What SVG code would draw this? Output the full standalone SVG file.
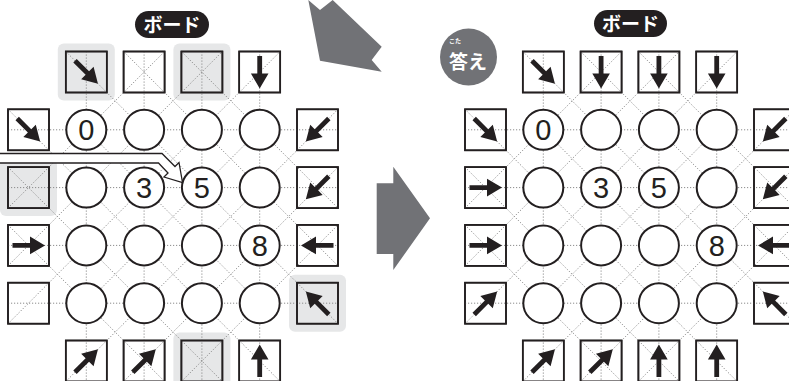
<svg xmlns="http://www.w3.org/2000/svg" xmlns:xlink="http://www.w3.org/1999/xlink" width="789" height="381" viewBox="0 0 789 381">
<style>
.dot{fill:none;stroke:#8c8c8c;stroke-width:1;stroke-dasharray:1.2 1.8}
.bx{fill:#fff;stroke:#231f20;stroke-width:1.6}
.bx.g{fill:#e6e7e8}
.hl{fill:#e6e7e8}
.c{fill:#fff;stroke:#231f20;stroke-width:2}
.n{font-family:"Liberation Sans",Arial,sans-serif;font-size:29px;fill:#231f20;text-anchor:middle}
.ar{fill:#231f20}
.big{fill:#717276}
.pill{fill:#231f20}
.pt{font-family:"Noto Sans CJK JP",sans-serif;font-weight:bold;font-size:19px;fill:#fff;text-anchor:middle}
</style>
<defs>
<path id="ar" d="M-16,-2.4 H1.5 V-8.8 L16.5,0 L1.5,8.8 V2.4 H-16 Z"/>
<rect id="box" x="-20.5" y="-20.5" width="41" height="41"/>
<circle id="cir" r="20"/>
</defs>

<!-- big gray arrows -->
<polygon class="big" points="308.3,0 320,10 332.7,0 381.7,46.7 371.7,60 381.7,71.7 320,60.7"/>
<polygon class="big" points="376.7,183.3 393.3,183.3 393.3,166.7 430,218.3 393.3,270 393.3,254 376.7,254"/>

<!-- labels -->
<g id="label-board-left">
<rect class="pill" x="135" y="11" width="74" height="27" rx="13.5"/>
<text class="pt" x="172" y="31.5">ボード</text>
</g>
<g id="label-board-right">
<rect class="pill" x="594" y="10" width="73" height="27" rx="13.5"/>
<text class="pt" x="630.5" y="30.5">ボード</text>
</g>
<g id="label-answer">
<circle cx="468.5" cy="57" r="28.5" fill="#717276"/>
<text x="455" y="43" font-family="'Noto Sans CJK JP',sans-serif" font-weight="bold" font-size="6" fill="#fff" text-anchor="middle">こた</text>
<text x="468" y="68.5" font-family="'Noto Sans CJK JP',sans-serif" font-weight="bold" font-size="19" fill="#fff" text-anchor="middle">答え</text>
</g>

<!-- highlights (left board) -->
<g id="highlights">
<rect class="hl" x="57.8" y="43.5" width="57" height="57" rx="6"/>
<rect class="hl" x="173.4" y="43.5" width="57" height="57" rx="6"/>
<rect class="hl" x="0" y="159.1" width="57" height="57" rx="6"/>
<rect class="hl" x="289" y="274.7" width="57" height="57" rx="6"/>
<rect class="hl" x="173.4" y="332.5" width="57" height="57" rx="6"/>
</g>

<!-- box fills (left) -->
<g id="left-box-fills">
<use href="#box" class="bx g" x="86.3" y="72"/>
<use href="#box" class="bx" x="144.1" y="72"/>
<use href="#box" class="bx g" x="201.9" y="72"/>
<use href="#box" class="bx" x="259.7" y="72"/>
<use href="#box" class="bx" x="28.5" y="129.8"/>
<use href="#box" class="bx g" x="28.5" y="187.6"/>
<use href="#box" class="bx" x="28.5" y="245.4"/>
<use href="#box" class="bx" x="28.5" y="303.2"/>
<use href="#box" class="bx" x="317.5" y="129.8"/>
<use href="#box" class="bx" x="317.5" y="187.6"/>
<use href="#box" class="bx" x="317.5" y="245.4"/>
<use href="#box" class="bx g" x="317.5" y="303.2"/>
<use href="#box" class="bx" x="86.3" y="361"/>
<use href="#box" class="bx" x="144.1" y="361"/>
<use href="#box" class="bx g" x="201.9" y="361"/>
<use href="#box" class="bx" x="259.7" y="361"/>
</g>
<g id="right-box-fills" transform="translate(457,0)">
<use href="#box" class="bx" x="86.3" y="72"/>
<use href="#box" class="bx" x="144.1" y="72"/>
<use href="#box" class="bx" x="201.9" y="72"/>
<use href="#box" class="bx" x="259.7" y="72"/>
<use href="#box" class="bx" x="28.5" y="129.8"/>
<use href="#box" class="bx" x="28.5" y="187.6"/>
<use href="#box" class="bx" x="28.5" y="245.4"/>
<use href="#box" class="bx" x="28.5" y="303.2"/>
<use href="#box" class="bx" x="317.5" y="129.8"/>
<use href="#box" class="bx" x="317.5" y="187.6"/>
<use href="#box" class="bx" x="317.5" y="245.4"/>
<use href="#box" class="bx" x="317.5" y="303.2"/>
<use href="#box" class="bx" x="86.3" y="361"/>
<use href="#box" class="bx" x="144.1" y="361"/>
<use href="#box" class="bx" x="201.9" y="361"/>
<use href="#box" class="bx" x="259.7" y="361"/>
</g>

<!-- connectors: dotted lattice -->
<g id="connectors">
<path id="lat" class="dot" d="M8,129.8H338 M8,187.6H338 M8,245.4H338 M8,303.2H338
M86.3,51.5V381.5 M144.1,51.5V381.5 M201.9,51.5V381.5 M259.7,51.5V381.5
M86.3,129.8L259.7,303.2 M65.8,51.5L338,323.7 M8,109.3L280.2,381.5 M123.6,51.5L338,265.9 M8,167.1L222.4,381.5 M181.4,51.5L338,208.1 M8,224.9L164.6,381.5
M86.3,303.2L259.7,129.8 M8,323.7L280.2,51.5 M65.8,381.5L338,109.3 M8,265.9L222.4,51.5 M123.6,381.5L338,167.1 M8,208.1L164.6,51.5 M181.4,381.5L338,224.9"/>
<use href="#lat" transform="translate(457,0)"/>
</g>

<!-- left board -->
<g id="left-board">
<g id="L-circles">
<use href="#cir" class="c" x="86.3" y="129.8"/><use href="#cir" class="c" x="144.1" y="129.8"/><use href="#cir" class="c" x="201.9" y="129.8"/><use href="#cir" class="c" x="259.7" y="129.8"/>
<use href="#cir" class="c" x="86.3" y="187.6"/><use href="#cir" class="c" x="144.1" y="187.6"/><use href="#cir" class="c" x="201.9" y="187.6"/><use href="#cir" class="c" x="259.7" y="187.6"/>
<use href="#cir" class="c" x="86.3" y="245.4"/><use href="#cir" class="c" x="144.1" y="245.4"/><use href="#cir" class="c" x="201.9" y="245.4"/><use href="#cir" class="c" x="259.7" y="245.4"/>
<use href="#cir" class="c" x="86.3" y="303.2"/><use href="#cir" class="c" x="144.1" y="303.2"/><use href="#cir" class="c" x="201.9" y="303.2"/><use href="#cir" class="c" x="259.7" y="303.2"/>
<text class="n" x="86.3" y="140.3">0</text>
<text class="n" x="144.1" y="198.1">3</text>
<text class="n" x="201.9" y="198.1">5</text>
<text class="n" x="259.7" y="255.9">8</text>
</g>
<g id="L-box-strokes" fill="none" stroke="#231f20" stroke-width="1.7">
<use href="#box" x="86.3" y="72"/><use href="#box" x="144.1" y="72"/><use href="#box" x="201.9" y="72"/><use href="#box" x="259.7" y="72"/>
<use href="#box" x="28.5" y="129.8"/><use href="#box" x="28.5" y="187.6"/><use href="#box" x="28.5" y="245.4"/><use href="#box" x="28.5" y="303.2"/>
<use href="#box" x="317.5" y="129.8"/><use href="#box" x="317.5" y="187.6"/><use href="#box" x="317.5" y="245.4"/><use href="#box" x="317.5" y="303.2"/>
<use href="#box" x="86.3" y="361"/><use href="#box" x="144.1" y="361"/><use href="#box" x="201.9" y="361"/><use href="#box" x="259.7" y="361"/>
</g>
<g id="L-arrows" class="ar">
<use href="#ar" transform="translate(86.3,72) rotate(45)"/>
<use href="#ar" transform="translate(259.7,72) rotate(90)"/>
<use href="#ar" transform="translate(28.5,129.8) rotate(45)"/>
<use href="#ar" transform="translate(28.5,245.4)"/>
<use href="#ar" transform="translate(317.5,129.8) rotate(135)"/>
<use href="#ar" transform="translate(317.5,187.6) rotate(135)"/>
<use href="#ar" transform="translate(317.5,245.4) rotate(180)"/>
<use href="#ar" transform="translate(317.5,303.2) rotate(-135)"/>
<use href="#ar" transform="translate(86.3,361) rotate(-45)"/>
<use href="#ar" transform="translate(144.1,361) rotate(-45)"/>
<use href="#ar" transform="translate(259.7,361) rotate(-90)"/>
</g>
<g id="callout">
<polygon points="-2,153.5 162,153.5 175,166.5 179,162.5 182.5,182.5 164,177 168,173 158.5,163 -2,163" fill="#fff" stroke="#231f20" stroke-width="1.3" stroke-linejoin="miter"/>
</g>
</g>

<!-- right board -->
<g id="right-board" transform="translate(457,0)">
<g id="R-circles">
<use href="#cir" class="c" x="86.3" y="129.8"/><use href="#cir" class="c" x="144.1" y="129.8"/><use href="#cir" class="c" x="201.9" y="129.8"/><use href="#cir" class="c" x="259.7" y="129.8"/>
<use href="#cir" class="c" x="86.3" y="187.6"/><use href="#cir" class="c" x="144.1" y="187.6"/><use href="#cir" class="c" x="201.9" y="187.6"/><use href="#cir" class="c" x="259.7" y="187.6"/>
<use href="#cir" class="c" x="86.3" y="245.4"/><use href="#cir" class="c" x="144.1" y="245.4"/><use href="#cir" class="c" x="201.9" y="245.4"/><use href="#cir" class="c" x="259.7" y="245.4"/>
<use href="#cir" class="c" x="86.3" y="303.2"/><use href="#cir" class="c" x="144.1" y="303.2"/><use href="#cir" class="c" x="201.9" y="303.2"/><use href="#cir" class="c" x="259.7" y="303.2"/>
<text class="n" x="86.3" y="140.3">0</text>
<text class="n" x="144.1" y="198.1">3</text>
<text class="n" x="201.9" y="198.1">5</text>
<text class="n" x="259.7" y="255.9">8</text>
</g>
<g id="R-box-strokes" fill="none" stroke="#231f20" stroke-width="1.7">
<use href="#box" x="86.3" y="72"/><use href="#box" x="144.1" y="72"/><use href="#box" x="201.9" y="72"/><use href="#box" x="259.7" y="72"/>
<use href="#box" x="28.5" y="129.8"/><use href="#box" x="28.5" y="187.6"/><use href="#box" x="28.5" y="245.4"/><use href="#box" x="28.5" y="303.2"/>
<use href="#box" x="317.5" y="129.8"/><use href="#box" x="317.5" y="187.6"/><use href="#box" x="317.5" y="245.4"/><use href="#box" x="317.5" y="303.2"/>
<use href="#box" x="86.3" y="361"/><use href="#box" x="144.1" y="361"/><use href="#box" x="201.9" y="361"/><use href="#box" x="259.7" y="361"/>
</g>
<g id="R-arrows" class="ar">
<use href="#ar" transform="translate(86.3,72) rotate(45)"/>
<use href="#ar" transform="translate(144.1,72) rotate(90)"/>
<use href="#ar" transform="translate(201.9,72) rotate(90)"/>
<use href="#ar" transform="translate(259.7,72) rotate(90)"/>
<use href="#ar" transform="translate(28.5,129.8) rotate(45)"/>
<use href="#ar" transform="translate(28.5,187.6)"/>
<use href="#ar" transform="translate(28.5,245.4)"/>
<use href="#ar" transform="translate(28.5,303.2) rotate(-45)"/>
<use href="#ar" transform="translate(317.5,129.8) rotate(135)"/>
<use href="#ar" transform="translate(317.5,187.6) rotate(135)"/>
<use href="#ar" transform="translate(317.5,245.4) rotate(180)"/>
<use href="#ar" transform="translate(317.5,303.2) rotate(-135)"/>
<use href="#ar" transform="translate(86.3,361) rotate(-45)"/>
<use href="#ar" transform="translate(144.1,361) rotate(-45)"/>
<use href="#ar" transform="translate(201.9,361) rotate(-90)"/>
<use href="#ar" transform="translate(259.7,361) rotate(-90)"/>
</g>
</g>
</svg>
